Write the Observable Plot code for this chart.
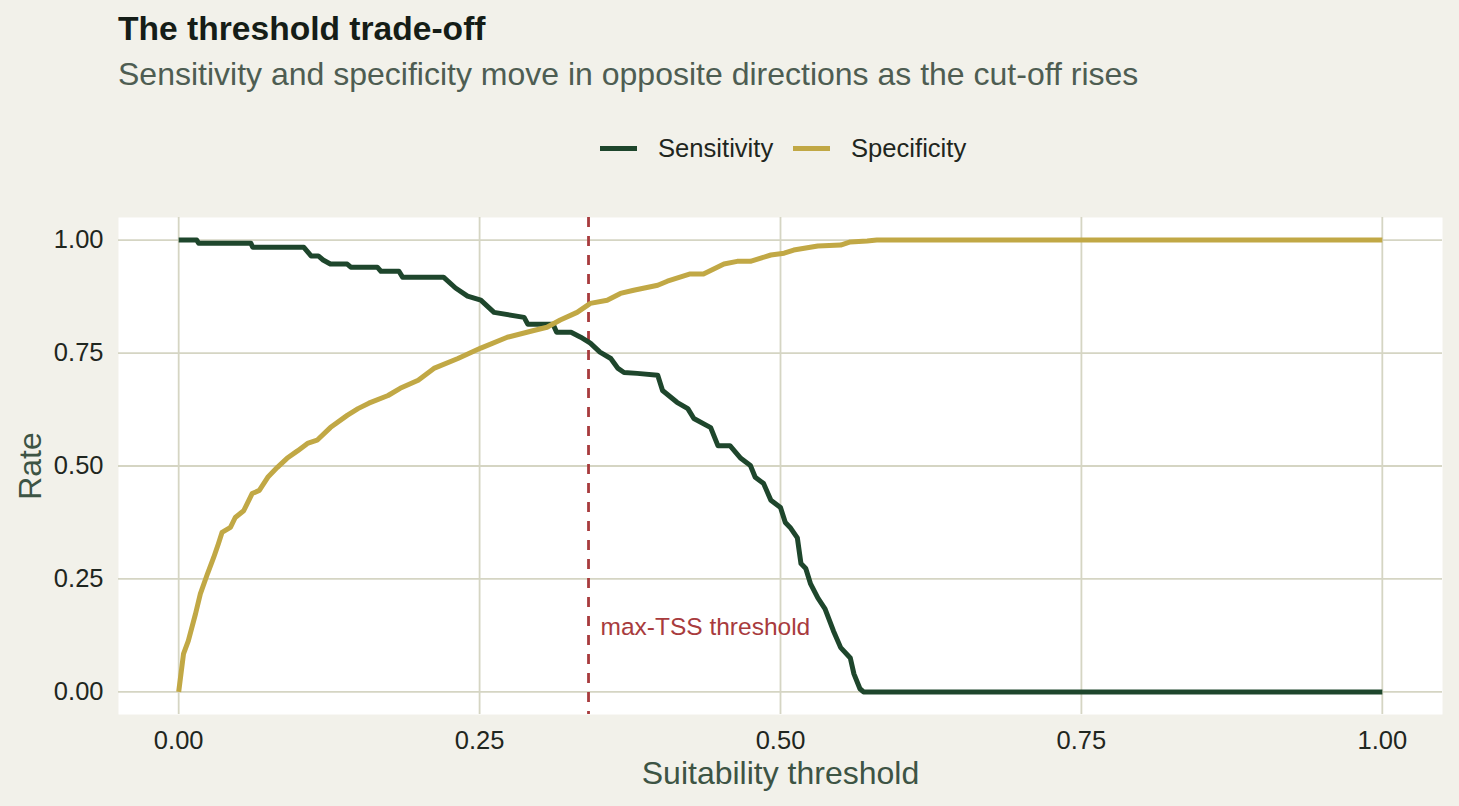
<!DOCTYPE html>
<html>
<head>
<meta charset="utf-8">
<script src="https://cdn.jsdelivr.net/npm/d3@7"></script>
<script src="https://cdn.jsdelivr.net/npm/@observablehq/plot@0.6"></script>
<style>
  html, body { margin: 0; padding: 0; background: #f2f1ea; }
  #fig { position: relative; width: 1459px; height: 806px; background: #f2f1ea; font-family: "Liberation Sans", Arial, Helvetica, sans-serif; overflow: hidden; }
  .abs { position: absolute; white-space: nowrap; line-height: 1; }
  #title { left: 118px; top: 11.5px; font-size: 33.6px; font-weight: bold; color: #151d17; }
  #subtitle { left: 118px; top: 58px; font-size: 32px; color: #4e5d52; }
  .lg-line { position: absolute; height: 5px; width: 37px; top: 146px; }
  .lg-text { font-size: 25.6px; color: #1f2620; top: 135.5px; }
  #chart { position: absolute; left: 0; top: 190px; }
</style>
</head>
<body>
<div id="fig">
  <div id="title" class="abs">The threshold trade-off</div>
  <div id="subtitle" class="abs">Sensitivity and specificity move in opposite directions as the cut-off rises</div>
  <div class="lg-line" style="left:600px;background:#1e462c"></div>
  <div class="abs lg-text" style="left:658px">Sensitivity</div>
  <div class="lg-line" style="left:793px;background:#c1a845"></div>
  <div class="abs lg-text" style="left:851px">Specificity</div>
  <div id="chart"></div>
</div>
<script>
// Sensitivity curve (threshold, rate)
const sensThreshold = [0, 0.015, 0.0166, 0.060, 0.0615, 0.104, 0.110, 0.116, 0.120, 0.126, 0.140, 0.143, 0.165, 0.168, 0.183, 0.186, 0.220, 0.230, 0.240, 0.251, 0.262, 0.287, 0.290, 0.311, 0.314, 0.326, 0.334, 0.342, 0.350, 0.359, 0.365, 0.370, 0.381, 0.398, 0.402, 0.414, 0.423, 0.428, 0.442, 0.448, 0.458, 0.467, 0.475, 0.479, 0.486, 0.492, 0.500, 0.504, 0.508, 0.514, 0.517, 0.521, 0.525, 0.531, 0.537, 0.544, 0.550, 0.558, 0.561, 0.566, 0.569, 1.0];
const sensValue = [1.0, 1.0, 0.993, 0.993, 0.984, 0.984, 0.965, 0.965, 0.956, 0.947, 0.947, 0.940, 0.940, 0.931, 0.931, 0.918, 0.918, 0.894, 0.876, 0.867, 0.840, 0.829, 0.814, 0.814, 0.796, 0.796, 0.785, 0.772, 0.752, 0.738, 0.716, 0.707, 0.705, 0.701, 0.667, 0.641, 0.627, 0.605, 0.585, 0.545, 0.545, 0.517, 0.501, 0.475, 0.461, 0.424, 0.408, 0.375, 0.364, 0.341, 0.284, 0.273, 0.239, 0.208, 0.184, 0.135, 0.098, 0.075, 0.040, 0.007, 0, 0];

// Specificity curve (threshold, rate)
const specThreshold = [0, 0.004, 0.008, 0.014, 0.018, 0.024, 0.029, 0.033, 0.036, 0.043, 0.047, 0.054, 0.061, 0.067, 0.074, 0.082, 0.090, 0.099, 0.107, 0.115, 0.126, 0.140, 0.149, 0.158, 0.174, 0.184, 0.199, 0.212, 0.232, 0.251, 0.273, 0.295, 0.306, 0.317, 0.331, 0.342, 0.356, 0.367, 0.378, 0.398, 0.406, 0.425, 0.436, 0.453, 0.464, 0.475, 0.492, 0.503, 0.511, 0.531, 0.550, 0.558, 0.572, 0.580, 1.0];
const specValue = [0, 0.084, 0.113, 0.173, 0.217, 0.262, 0.297, 0.328, 0.353, 0.364, 0.386, 0.401, 0.439, 0.446, 0.475, 0.497, 0.517, 0.534, 0.550, 0.557, 0.585, 0.612, 0.627, 0.639, 0.656, 0.672, 0.690, 0.716, 0.738, 0.761, 0.785, 0.800, 0.807, 0.823, 0.840, 0.860, 0.867, 0.882, 0.889, 0.900, 0.909, 0.925, 0.925, 0.947, 0.953, 0.953, 0.967, 0.971, 0.978, 0.987, 0.989, 0.996, 0.998, 1.0, 1.0];

const maxTSS = 0.3405;
const thresholdLabel = "max-TSS threshold";
const tickValues = [0, 0.25, 0.5, 0.75, 1];
const seriesNames = ["Sensitivity", "Specificity"];
const seriesColors = ["#1e462c", "#c1a845"];

const sens = sensThreshold.map((t, i) => ({t, v: sensValue[i], s: seriesNames[0]}));
const spec = specThreshold.map((t, i) => ({t, v: specValue[i], s: seriesNames[1]}));

const gridColor = "#d5d5c3";
const fmt = d3.format(".2f");

const chart = Plot.plot({
  width: 1459,
  height: 616,
  marginTop: 27,
  marginBottom: 92,
  marginLeft: 118,
  marginRight: 17,
  style: { background: "transparent", fontFamily: "Liberation Sans, Arial, sans-serif" },
  x: { domain: [-0.05, 1.05] },
  y: { domain: [-0.05, 1.05] },
  color: { domain: seriesNames, range: seriesColors },
  marks: [
    Plot.frame({ fill: "white", stroke: "none" }),
    Plot.gridX(tickValues, { stroke: gridColor, strokeOpacity: 1, strokeWidth: 1.8 }),
    Plot.gridY(tickValues, { stroke: gridColor, strokeOpacity: 1, strokeWidth: 1.8 }),
    Plot.axisX(tickValues, { tickSize: 0, tickPadding: 16, tickFormat: fmt, fontSize: 25.5, fill: "#1f2620", label: null }),
    Plot.axisY(tickValues, { tickSize: 0, tickPadding: 15, tickFormat: fmt, fontSize: 25.5, fill: "#1f2620", label: null }),
    Plot.ruleX([maxTSS], { stroke: "#a83b3d", strokeWidth: 2.8, strokeDasharray: "10,9" }),
    Plot.line(sens, { x: "t", y: "v", stroke: "s", strokeWidth: 5, strokeLinejoin: "round", strokeLinecap: "butt" }),
    Plot.line(spec, { x: "t", y: "v", stroke: "s", strokeWidth: 5, strokeLinejoin: "round", strokeLinecap: "butt" }),
    Plot.text([thresholdLabel], { x: maxTSS, y: 0.144, dx: 12, text: d => d, textAnchor: "start", fill: "#a83b3d", fontSize: 24.5 }),
    Plot.text(["Suitability threshold"], { frameAnchor: "bottom", dy: 59, lineAnchor: "middle", textAnchor: "middle", text: d => d, fontSize: 32, fill: "#3d5444" }),
    Plot.text(["Rate"], { frameAnchor: "left", dx: -88, rotate: -90, lineAnchor: "middle", textAnchor: "middle", text: d => d, fontSize: 32, fill: "#3d5444" })
  ]
});
document.getElementById("chart").appendChild(chart);
</script>
</body>
</html>
